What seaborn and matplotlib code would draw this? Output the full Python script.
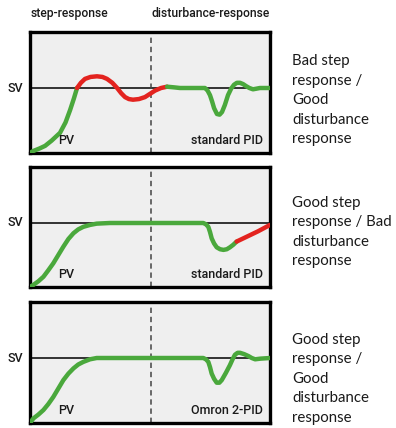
import matplotlib
matplotlib.use("Agg")
import matplotlib.pyplot as plt
import seaborn as sns
import pandas as pd

sns.set_theme(style="white")
plt.rcParams['font.family'] = ['Roboto', 'DejaVu Sans']

# ---- data (time 0..100, PV relative to SV = 1) ----
# Panel 1: standard PID tuned for disturbance
p1_green_a_x = [0, 1.3, 4, 6.3, 9, 12.5, 14.8, 16.7, 18.3, 19.6]
p1_green_a_y = [0.0, 0.03, 0.07, 0.11, 0.19, 0.31, 0.47, 0.66, 0.84, 1.0]
p1_red_x = [19.6, 21.2, 22.9, 25.2, 27.9, 30.2, 32.1, 34.3, 36.3, 38.0, 39.6, 41.2, 42.9, 45.4, 47.9, 50.0, 52.1, 54.6, 57.1]
p1_red_y = [1.0, 1.08, 1.14, 1.17, 1.18, 1.17, 1.14, 1.08, 1.0, 0.92, 0.86, 0.83, 0.82, 0.83, 0.86, 0.91, 0.96, 1.0, 1.02]
p1_green_b_x = [57.1, 60.0, 62.5, 67.0, 72.9, 74.0, 75.0, 75.9, 76.7, 77.9, 79.0, 80.0, 81.2, 82.5, 83.8, 85.0, 86.2, 87.5, 88.8, 90.0, 91.4, 92.9, 94.4, 95.8, 100]
p1_green_b_y = [1.02, 1.01, 1.0, 1.0, 1.0, 0.96, 0.89, 0.79, 0.69, 0.6, 0.59, 0.63, 0.74, 0.89, 0.99, 1.05, 1.08, 1.08, 1.06, 1.03, 1.0, 0.98, 0.99, 1.0, 1.0]

# Panel 2: standard PID tuned for step
p2_green_x = [0, 1.3, 3.5, 5.6, 7.6, 9.7, 11.8, 13.9, 16.0, 18.1, 20.1, 22.2, 25.0, 27.8, 33.3, 50, 72.2, 73.3, 74.3, 75.0, 75.7, 76.7, 77.8, 79.2, 80.6, 82.0, 83.3, 84.7, 86.1]
p2_green_y = [0.0, 0.03, 0.09, 0.16, 0.26, 0.37, 0.5, 0.63, 0.75, 0.84, 0.9, 0.94, 0.97, 0.99, 1.0, 1.0, 1.0, 0.98, 0.94, 0.86, 0.76, 0.68, 0.62, 0.59, 0.58, 0.59, 0.62, 0.66, 0.71]
p2_red_x = [86.1, 90, 95, 100]
p2_red_y = [0.71, 0.78, 0.87, 0.97]

# Panel 3: Omron 2-PID
p3_green_x = [0, 1.4, 3.5, 5.6, 7.6, 9.7, 11.8, 13.9, 16.0, 18.1, 20.1, 22.2, 25.0, 27.8, 33.3, 50, 72.2, 73.3, 74.3, 75.0, 75.7, 76.7, 77.8, 78.9, 79.9, 81.6, 83.3, 84.4, 85.4, 86.5, 87.5, 89.2, 91.0, 92.4, 93.8, 96, 100]
p3_green_y = [0.0, 0.07, 0.13, 0.2, 0.29, 0.4, 0.53, 0.66, 0.76, 0.84, 0.9, 0.94, 0.98, 1.0, 1.0, 1.0, 1.0, 0.98, 0.94, 0.86, 0.76, 0.68, 0.62, 0.62, 0.66, 0.77, 0.89, 0.98, 1.05, 1.08, 1.08, 1.06, 1.03, 1.0, 0.98, 0.99, 1.0]

panel_labels = ["standard PID", "standard PID", "Omron 2-PID"]
side_texts = [
    "Bad step\nresponse /\nGood\ndisturbance\nresponse",
    "Good step\nresponse / Bad\ndisturbance\nresponse",
    "Good step\nresponse /\nGood\ndisturbance\nresponse",
]
top_labels = ["step-response", "disturbance-response"]

GREEN = "#4aa83c"
RED = "#e3231f"

W, H = 396, 428
fig = plt.figure(figsize=(W / 100, H / 100), dpi=100)
fig.patch.set_facecolor("white")

# (top px, bottom px, SV px)
boxes = [(32, 153, 88), (167, 287, 223), (302, 423, 358)]
left_px, right_px = 30, 270

segments = [
    [(p1_green_a_x, p1_green_a_y, GREEN), (p1_red_x, p1_red_y, RED), (p1_green_b_x, p1_green_b_y, GREEN)],
    [(p2_green_x, p2_green_y, GREEN), (p2_red_x, p2_red_y, RED)],
    [(p3_green_x, p3_green_y, GREEN)],
]
text_tops = [54, 196, 333]

for i, (top, bot, sv) in enumerate(boxes):
    ax = fig.add_axes([left_px / W, 1 - bot / H, (right_px - left_px) / W, (bot - top) / H])
    ax.set_facecolor("#efefef")
    ymax = (bot - top) / (bot - sv)
    ax.set_xlim(0, 100)
    ax.set_ylim(0, ymax)
    ax.axhline(1.0, color="black", lw=1.1, zorder=1)
    ax.axvline(50.4, color="#444444", lw=1.1, ls=(0, (3.5, 2.5)), zorder=1)
    for sx, sy, c in segments[i]:
        df = pd.DataFrame({"t": sx, "pv": sy})
        sns.lineplot(data=df, x="t", y="pv", ax=ax, color=c, lw=3.2,
                     sort=False, estimator=None, solid_capstyle="round",
                     solid_joinstyle="round", zorder=3)
    ax.set_xticks([])
    ax.set_yticks([])
    ax.set_xlabel("")
    ax.set_ylabel("")
    for s in ax.spines.values():
        s.set_visible(True)
        s.set_color("black")
        s.set_linewidth(2.4)
    ax.text(15, 0.2, "PV", ha="center", va="center", fontsize=9,
            fontweight="medium", color="#1a1a1a")
    ax.text(97, 0.2, panel_labels[i], ha="right", va="center", fontsize=9,
            fontweight="medium", color="#1a1a1a")
    fig.text(15 / W, 1 - sv / H, "SV", ha="center", va="center", fontsize=9,
             fontweight="medium", color="#1a1a1a")
    fig.text(292 / W, 1 - text_tops[i] / H, side_texts[i], ha="left", va="top",
             fontsize=10.8, family=["Lato", "DejaVu Sans"], color="#1a1a1a",
             linespacing=1.5)

fig.text(31 / W, 1 - 13 / H, top_labels[0], ha="left", va="center",
         fontsize=8.7, fontweight="medium", color="#1a1a1a")
fig.text(152 / W, 1 - 13 / H, top_labels[1], ha="left", va="center",
         fontsize=8.7, fontweight="medium", color="#1a1a1a")

fig.savefig("out.png", dpi=100, facecolor="white")
